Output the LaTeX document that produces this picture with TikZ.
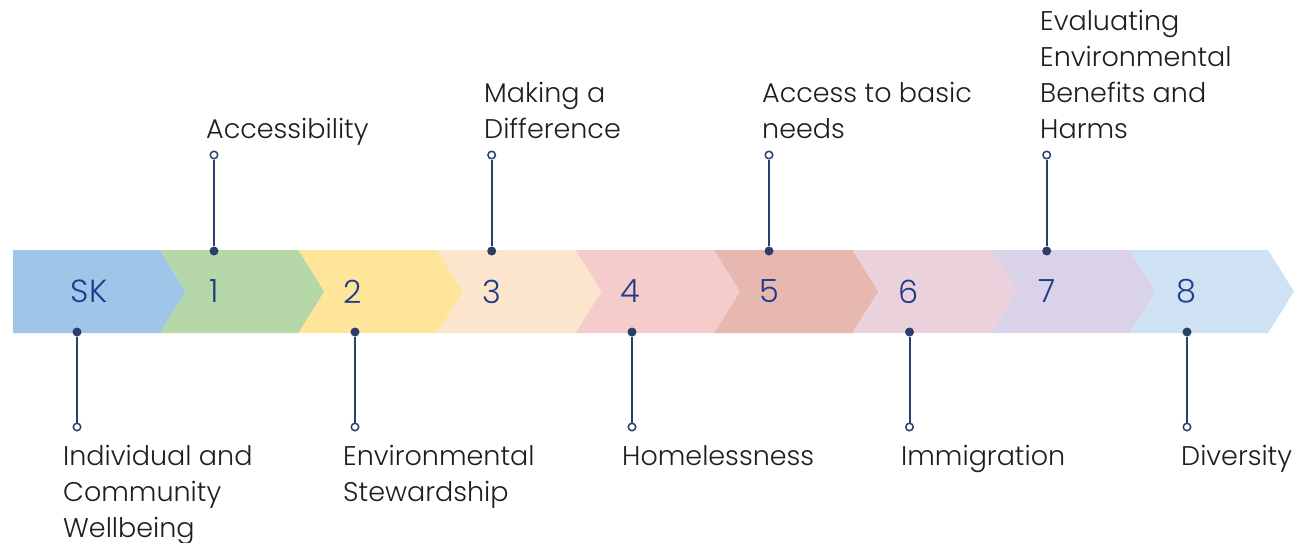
\documentclass[tikz,border=0pt]{standalone}
\usepackage{fontspec}
\setmainfont{Poppins}
\newfontfamily\lightfont{Poppins Light}
\definecolor{numblue}{HTML}{1F3C8A}
\definecolor{stemblue}{HTML}{2A3F6B}
\definecolor{labelgray}{HTML}{1E1E1E}
\definecolor{chevsk}{HTML}{9FC5E8}
\definecolor{chev1}{HTML}{B6D7A8}
\definecolor{chev2}{HTML}{FFE599}
\definecolor{chev3}{HTML}{FCE5CD}
\definecolor{chev4}{HTML}{F4CCCC}
\definecolor{chev5}{HTML}{E6B8AF}
\definecolor{chev6}{HTML}{EAD1DC}
\definecolor{chev7}{HTML}{D9D2E9}
\definecolor{chev8}{HTML}{CFE2F3}
\tikzset{
    stemdot/.style={circle, fill=stemblue, inner sep=0pt, minimum size=9pt},
    stemring/.style={circle, draw=stemblue, fill=white, line width=1.5pt,
        inner sep=0pt, minimum size=7.5pt},
    stem/.style={stemblue, line width=2pt},
    numlabel/.style={text=numblue, font=\lightfont\fontsize{32}{36}\selectfont},
    steplabel/.style={anchor=base west, align=left, inner sep=0pt,
        text=labelgray, font=\lightfont\fontsize{27}{36}\selectfont}
}

\begin{document}
\begin{tikzpicture}[x=1pt,y=-1pt]
      \useasboundingbox (0,0) rectangle (1301,543);
      % chevrons
      \fill[chevsk] (13,250) -- (160,250) -- (186,291.5) -- (160,333) -- (13,333) -- cycle;
      \foreach \c [count=\i] in {chev1,chev2,chev3,chev4,chev5,chev6,chev7,chev8} {
        \pgfmathsetmacro\L{160+138.5*(\i-1)}
        \fill[\c] (\L,250) -- ++(138.5,0) -- ++(26,41.5) -- ++(-26,41.5)
          -- ++(-138.5,0) -- ++(26,-41.5) -- cycle;
      }
      % step numbers
      \node[numlabel] (nsk) at (89,291.5) {SK};
      \foreach \i in {1,...,8} {
        \node[numlabel] (n\i) at (214+138.9*\i-138.9,291.5) {\i};
      }
      % dots on the band
      \node[stemdot] (dsk) at (77,332) {};
      \node[stemdot] (d1) at (214,251) {};
      \node[stemdot] (d2) at (355,332) {};
      \node[stemdot] (d3) at (491.7,251) {};
      \node[stemdot] (d4) at (632,332) {};
      \node[stemdot] (d5) at (769,251) {};
      \node[stemdot] (d6) at (909.5,332) {};
      \node[stemdot] (d7) at (1046.7,251) {};
      \node[stemdot] (d8) at (1187,332) {};
      % open ends
      \node[stemring] (rsk) at (77,427) {};
      \node[stemring] (r1) at (214,155) {};
      \node[stemring] (r2) at (355,427) {};
      \node[stemring] (r3) at (491.7,155) {};
      \node[stemring] (r4) at (632,427) {};
      \node[stemring] (r5) at (769,155) {};
      \node[stemring] (r6) at (909.5,427) {};
      \node[stemring] (r7) at (1046.7,155) {};
      \node[stemring] (r8) at (1187,427) {};
      % stems
      \foreach \k in {sk,1,2,3,4,5,6,7,8} {
        \draw[stem] (d\k) -- (r\k);
      }
      % labels (anchored at the baseline of the last line)
      \node[steplabel] (lsk) at (63,537) {Individual and\\Community\\Wellbeing};
      \node[steplabel] (l1) at (206,138) {Accessibility};
      \node[steplabel] (l2) at (343,501) {Environmental\\Stewardship};
      \node[steplabel] (l3) at (484,138) {Making a\\Difference};
      \node[steplabel] (l4) at (622,465) {Homelessness};
      \node[steplabel] (l5) at (762,138) {Access to basic\\needs};
      \node[steplabel] (l6) at (901,465) {Immigration};
      \node[steplabel] (l7) at (1040,138) {Evaluating\\Environmental\\Benefits and\\Harms};
      \node[steplabel] (l8) at (1181,465) {Diversity};
\end{tikzpicture}
\end{document}
